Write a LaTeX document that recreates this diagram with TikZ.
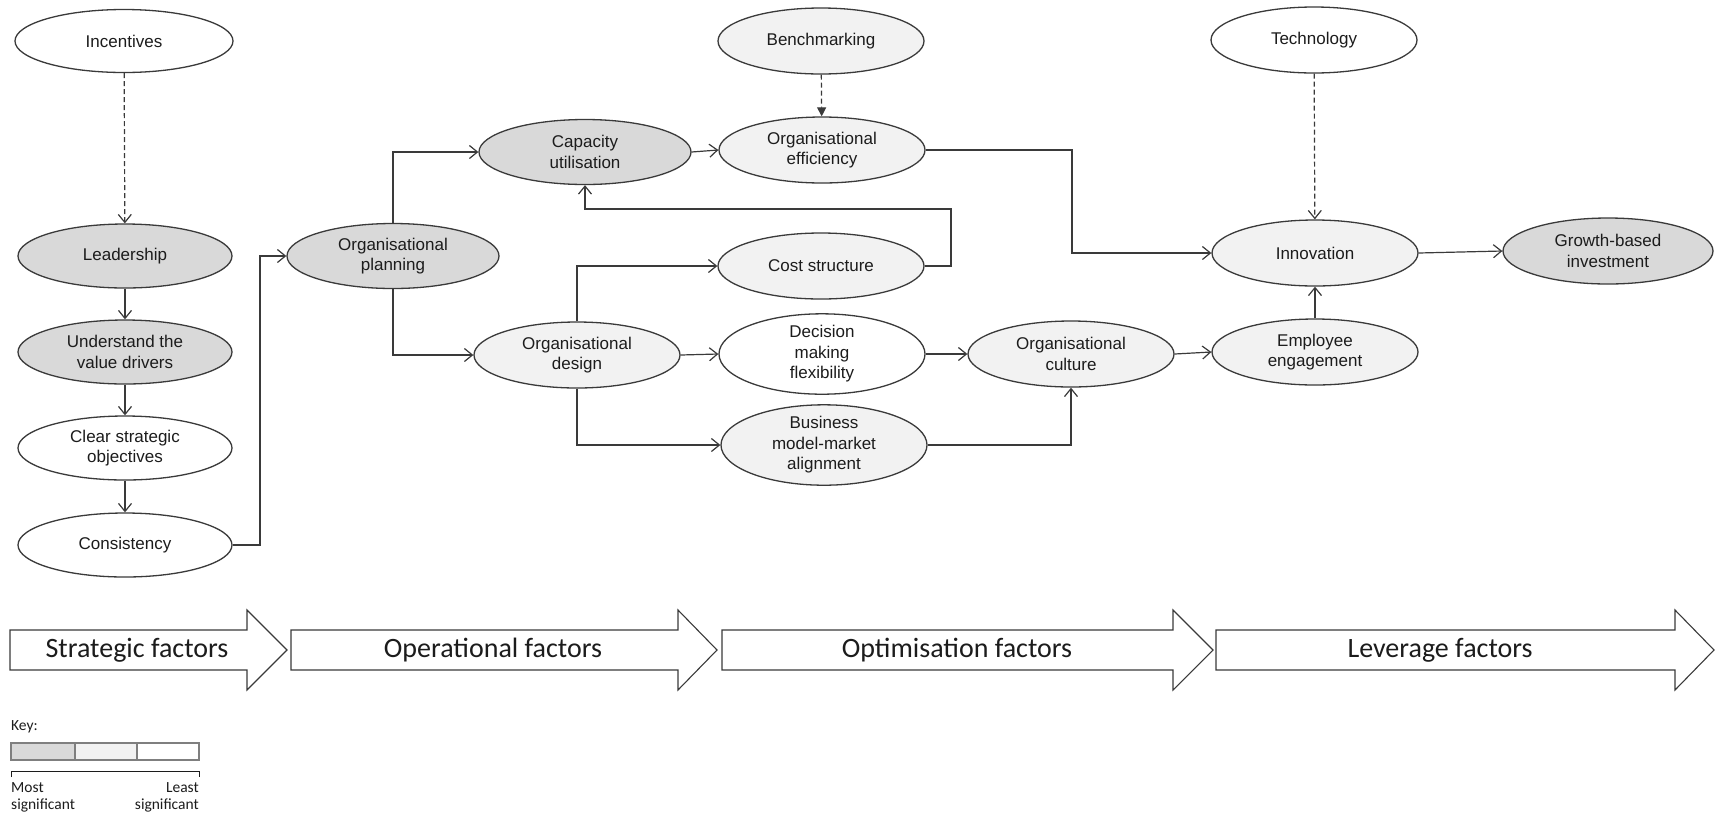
\documentclass[tikz,border=0pt]{standalone}
\usepackage{fontspec}
\setmainfont{Liberation Sans}
\newfontfamily\calib{Carlito}
\usetikzlibrary{shapes.geometric,arrows.meta}
\definecolor{shadeA}{HTML}{D9D9D9}
\definecolor{shadeB}{HTML}{F2F2F2}
\definecolor{edge}{HTML}{3A3A3A}
\definecolor{ink}{HTML}{1C1C1C}
\definecolor{keyline}{HTML}{7F7F7F}
\newcommand\nodefont{\fontsize{17}{20.5}\selectfont}
\newcommand\stagefont{\calib\fontsize{28}{32}\selectfont}
\newcommand\keyfont{\calib\fontsize{15.5}{18}\selectfont}
\tikzset{
  fac/.style={ellipse, draw=edge, line width=1.3pt, minimum width=206, minimum height=66,
    inner sep=0pt, align=center, font=\nodefont, text=ink},
  dark/.style={fac, fill=shadeA},
  light/.style={fac, fill=shadeB},
  plain/.style={fac, fill=white},
  link/.style={draw=edge, line width=1.2pt, -{Straight Barb[length=8pt,width=13pt,line width=1.2pt]}},
  dashlink/.style={link, dash pattern=on 5pt off 3pt},
  filllink/.style={draw=edge, line width=1.2pt, dash pattern=on 5pt off 3pt,
    -{Triangle[length=9pt,width=9pt]}},
  stagebox/.style={draw=edge, line width=1.1pt, fill=white},
  stagelabel/.style={font=\stagefont, text=ink, inner sep=0pt},
  keytext/.style={font=\keyfont, text=ink, inner sep=0pt},
  keybar/.style={draw=keyline, line width=1.4pt}
}
\begin{document}
\begin{tikzpicture}[x=1pt,y=-1pt]
\useasboundingbox (0,0) rectangle (1715,815);

% strategic column
\node[plain, minimum width=218, minimum height=63] (inc) at (124,41) {Incentives};
\node[dark, minimum width=214, minimum height=64] (lead) at (125,256) {Leadership};
\node[dark, minimum width=214, minimum height=64] (und) at (125,352) {Understand the\\value drivers};
\node[plain, minimum width=214, minimum height=64] (clr) at (125,448) {Clear strategic\\objectives};
\node[plain, minimum width=214, minimum height=64] (con) at (125,545) {Consistency};

% operational
\node[dark, minimum width=212, minimum height=65] (plan) at (393,256) {Organisational\\planning};
\node[dark, minimum width=212, minimum height=65] (cap) at (585,152) {Capacity\\utilisation};
\node[light] (des) at (577,355) {Organisational\\design};

% optimisation
\node[light] (bench) at (821,41) {Benchmarking};
\node[light] (eff) at (822,150) {Organisational\\efficiency};
\node[light] (cost) at (821,266) {Cost structure};
\node[plain] (dec) at (822,354) {Decision\\making\\flexibility};
\node[light] (bus) at (824,445) {Business\\model-market\\alignment};
\node[light] (cul) at (1071,354) {Organisational\\culture};

% leverage
\node[plain] (tech) at (1314,40) {Technology};
\node[light] (inn) at (1315,253) {Innovation};
\node[light] (emp) at (1315,352) {Employee\\engagement};
\node[dark, minimum width=210] (grw) at (1608,251) {Growth-based\\investment};

% bend points
\coordinate (j1) at (260,256);
\coordinate (j2) at (951,209);
\coordinate (j3) at (1072,253);

% connectors
\draw[dashlink] (inc) -- (lead);
\draw[link] (lead) -- (und);
\draw[link] (und) -- (clr);
\draw[link] (clr) -- (con);
\draw[link] (con.east) -| (j1) -- (plan.west);
\draw[link] (plan.north) |- (cap.west);
\draw[link] (plan.south) |- (des.west);
\draw[link] (cap.east) -- (eff.west);
\draw[filllink] (bench) -- (eff);
\draw[link] (des.north) |- (cost.west);
\draw[link] (des.east) -- (dec.west);
\draw[link] (des.south) |- (bus.west);
\draw[link] (cost.east) -| (j2) -| (cap.south);
\draw[link] (eff.east) -| (j3) -- (inn.west);
\draw[link] (dec.east) -- (cul.west);
\draw[link] (bus.east) -| (cul.south);
\draw[link] (cul.east) -- (emp.west);
\draw[link] (emp) -- (inn);
\draw[dashlink] (tech) -- (inn);
\draw[link] (inn.east) -- (grw.west);

% stage arrows
\draw[stagebox] (10,630) -- (247,630) -- (247,610) -- (287,650) -- (247,690) -- (247,670) -- (10,670) -- cycle;
\draw[stagebox] (291,630) -- (678,630) -- (678,610) -- (717,650) -- (678,690) -- (678,670) -- (291,670) -- cycle;
\draw[stagebox] (722,630) -- (1173,630) -- (1173,610) -- (1213,650) -- (1173,690) -- (1173,670) -- (722,670) -- cycle;
\draw[stagebox] (1216,630) -- (1675,630) -- (1675,610) -- (1714,650) -- (1675,690) -- (1675,670) -- (1216,670) -- cycle;
\node[stagelabel] (s1) at (137,650) {Strategic factors};
\node[stagelabel] (s2) at (493,650) {Operational factors};
\node[stagelabel] (s3) at (957,650) {Optimisation factors};
\node[stagelabel] (s4) at (1440,650) {Leverage factors};

% key
\node[keytext, anchor=west] (keyhd) at (11,727) {Key:};
\draw[keybar, fill=shadeA] (11,743) rectangle (75,760);
\draw[keybar, fill=shadeB] (75,743) rectangle (137,760);
\draw[keybar, fill=white] (137,743) rectangle (199,760);
\draw[draw=ink, line width=1pt] (11,777) -- (11,771) -- (199,771) -- (199,777);
\node[keytext, anchor=base west] (most) at (11,792) {Most};
\node[keytext, anchor=base west] (mostsig) at (11,809) {significant};
\node[keytext, anchor=base east] (least) at (199,792) {Least};
\node[keytext, anchor=base east] (leastsig) at (199,809) {significant};
\end{tikzpicture}
\end{document}
